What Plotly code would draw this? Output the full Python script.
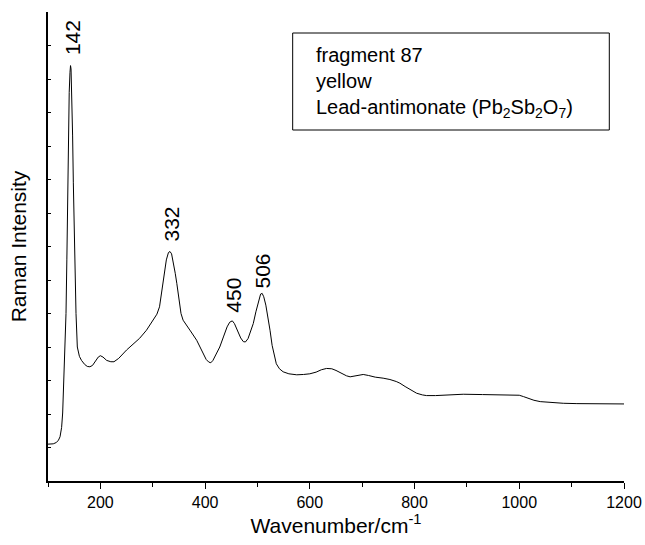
import numpy as np
import plotly.graph_objects as go

# Raman spectrum (arbitrary intensity units)
wavenumber = [
    100, 110, 116, 120, 123, 126, 128, 130, 132.5, 134.4, 136, 137.6, 139, 140.5,
    142, 143, 144, 145.5, 147, 148.4, 150, 152, 153.5, 156, 160, 164, 170, 175,
    180, 185, 190, 196, 200, 205, 212, 220, 226, 235, 250, 262, 275, 288, 300,
    308, 313, 318, 322, 326, 330, 333, 336, 340, 343, 346, 350, 354, 358, 364,
    372, 384, 390, 396, 402, 407, 411, 415, 420, 428, 435, 442, 447, 452, 456,
    462, 468, 473, 477, 482, 487, 492, 497, 502, 506, 509, 512, 516, 520, 524,
    528, 532, 536, 542, 549, 560, 575, 588, 600, 612, 622, 632, 642, 650, 660,
    670, 677, 685, 695, 702, 712, 725, 740, 753, 765, 772, 782, 792, 804, 815,
    823, 840, 860, 893, 930, 960, 989, 1000, 1008, 1018, 1028, 1040, 1060, 1084,
    1110, 1148, 1175, 1200,
]
intensity = [
    1.10, 1.11, 1.15, 1.22, 1.32, 1.60, 2.03, 2.90, 4.00, 5.00, 6.60, 8.90, 10.6, 11.6,
    12.2, 12.4, 12.3, 11.6, 10.3, 8.90, 7.20, 6.00, 5.00, 4.00, 3.72, 3.60, 3.48, 3.42,
    3.41, 3.45, 3.55, 3.70, 3.74, 3.70, 3.60, 3.56, 3.56, 3.66, 3.91, 4.08, 4.26, 4.50, 4.80,
    4.98, 5.20, 5.70, 6.20, 6.60, 6.82, 6.85, 6.78, 6.50, 6.20, 5.90, 5.40, 5.00, 4.80, 4.65,
    4.48, 4.20, 4.00, 3.81, 3.63, 3.55, 3.53, 3.60, 3.75, 4.00, 4.30, 4.60, 4.74, 4.78, 4.70,
    4.48, 4.27, 4.16, 4.15, 4.25, 4.45, 4.70, 5.05, 5.40, 5.58, 5.60, 5.50, 5.25, 4.90, 4.50,
    4.05, 3.72, 3.50, 3.35, 3.26, 3.20, 3.17, 3.18, 3.20, 3.25, 3.32, 3.36, 3.35, 3.30, 3.22,
    3.14, 3.11, 3.13, 3.17, 3.18, 3.15, 3.10, 3.07, 3.03, 2.97, 2.92, 2.82, 2.72, 2.62, 2.57,
    2.55, 2.55, 2.57, 2.59, 2.58, 2.57, 2.58, 2.56, 2.52, 2.46, 2.41, 2.37, 2.34, 2.32,
    2.31, 2.30, 2.30, 2.30,
]

peak_labels = ["142", "332", "450", "506"]
peak_positions = [142, 332, 450, 506]
peak_gaps = [11, 10, 8, 5]  # pixels between peak top and its label

legend_lines = ["fragment 87", "yellow", "Lead-antimonate (Pb<sub>2</sub>Sb<sub>2</sub>O<sub>7</sub>)"]

FONT = "Liberation Sans, Arial, Helvetica, sans-serif"


def create_figure():
    fig = go.Figure()

    fig.add_trace(go.Scatter(
        x=wavenumber,
        y=intensity,
        mode="lines",
        line=dict(color="black", width=1),
        showlegend=False,
    ))

    # peak labels, rotated, sitting just above each peak
    for label, pos, gap in zip(peak_labels, peak_positions, peak_gaps):
        peak_y = max(np.interp(np.linspace(pos - 4, pos + 4, 17), wavenumber, intensity))
        fig.add_annotation(
            x=pos, y=peak_y, text=label, textangle=-90,
            showarrow=False, xanchor="center", yanchor="bottom",
            yshift=gap - 2, xshift=2,
            font=dict(size=21, color="black", family=FONT),
        )

    # sample description box
    fig.add_shape(
        type="rect", xref="paper", yref="paper",
        x0=0.4248, x1=0.9745, y0=0.7484, y1=0.9552,
        line=dict(color="black", width=1), fillcolor="white",
    )
    fig.add_annotation(
        xref="paper", yref="paper", x=0.4620, y=0.8490,
        text="<br>".join(legend_lines), align="left",
        xanchor="left", yanchor="middle", showarrow=False,
        font=dict(size=20, color="black", family=FONT),
    )

    fig.update_layout(
        width=645, height=545,
        margin=dict(l=48, r=21, t=12, b=64),
        plot_bgcolor="white", paper_bgcolor="white",
        font=dict(family=FONT, color="black"),
    )

    fig.update_xaxes(
        range=[100, 1200], automargin=False,
        tickvals=[200, 400, 600, 800, 1000, 1200],
        ticks="outside", ticklen=6, tickwidth=1, tickcolor="black",
        minor=dict(tickvals=[100, 300, 500, 700, 900, 1100], ticks="outside",
                   ticklen=4, tickcolor="black"),
        showline=True, linecolor="black", linewidth=1.5,
        showgrid=False, zeroline=False,
        tickfont=dict(size=16, color="black"),
        title=dict(text="Wavenumber/cm<sup>-1</sup>", font=dict(size=21), standoff=8),
    )
    fig.update_yaxes(
        range=[0, 14], dtick=1, automargin=False,
        ticks="inside", ticklen=3, tickcolor="black",
        showticklabels=False,
        showline=True, linecolor="black", linewidth=1.5,
        showgrid=False, zeroline=False,
        title=dict(text="Raman Intensity", font=dict(size=21), standoff=14),
    )

    # drop the browser's default page margin so the figure sits at the corner
    fig.write_html("out.html", config={"displayModeBar": False},
                   post_script="document.body.style.margin = '0';")


if __name__ == "__main__":
    create_figure()
